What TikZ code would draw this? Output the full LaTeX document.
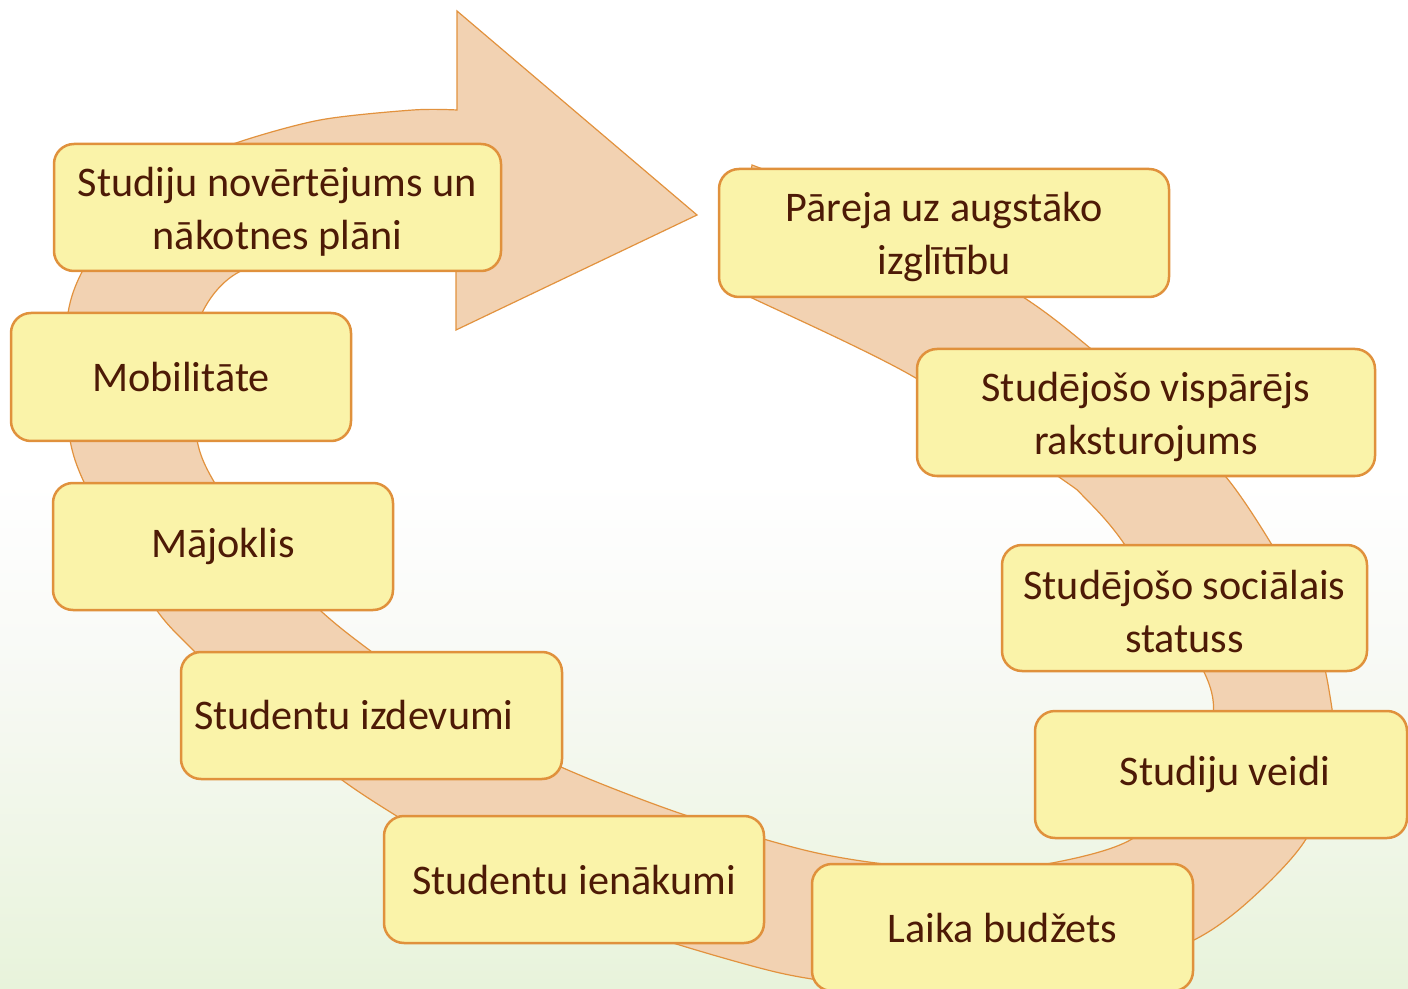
\documentclass[tikz,border=0pt]{standalone}
\usepackage{fontspec}
\setmainfont{Carlito}
\definecolor{bandfill}{RGB}{242,210,178}
\definecolor{bandline}{RGB}{226,146,62}
\definecolor{boxfill}{RGB}{250,243,169}
\definecolor{boxline}{RGB}{224,145,60}
\definecolor{txt}{RGB}{77,26,6}
\definecolor{bggreen}{RGB}{232,243,219}
\definecolor{bgmid}{RGB}{249,250,247}
\begin{document}
\begin{tikzpicture}[x=0.5pt,y=-0.5pt,
  box/.style={draw=boxline, fill=boxfill, line width=1.25pt, rounded corners=10pt,
    inner sep=0pt},
  lbl/.style={text=txt, align=center, inner sep=0pt, font=\fontsize{21.1}{26.5}\selectfont},
  lbltwo/.style={lbl, yshift=-2pt},
  band/.style={fill=bandfill, draw=bandline, line width=0.6pt, line join=miter}]
\useasboundingbox (0,0) rectangle (1408,989);
\clip (0,0) rectangle (1408,989);
% background
\fill[white] (0,0) rectangle (1408,480);
\shade[top color=white, bottom color=bgmid] (0,479) rectangle (1408,640);
\shade[top color=bgmid, bottom color=bggreen] (0,639) rectangle (1408,989);
% circular arrow band
\draw[band] plot[smooth] coordinates {(752,165) (900,225) (1023,297) (1090,348) (1160,410)
   (1226,477) (1272,545) (1310,615) (1329,690) (1334,760) (1306,839) (1250,900) (1194,940)
   (1100,975) (970,992) (860,985) (780,973) (673,943) (560,905) (470,860) (395,815) (342,780)
   (265,720) (195,652) (158,612) (118,545) (83,480) (70,440) (65,380) (68,313) (83,270)
   (125,205) (180,168) (236,143) (320,120) (413,110) (457,110)}
  -- (457,11) -- (697,215) -- (456,330) -- (456,240)
  -- plot[smooth] coordinates {(456,240) (350,246) (243,270) (202,313) (193,375) (197,440)
   (213,480) (260,550) (322,612) (372,652) (460,715) (561,767) (679,813) (800,849) (876,863)
   (965,871) (1052,863) (1132,839) (1190,780) (1212,725) (1204,672) (1125,545) (1084,497)
   (1059,477) (914,377) (750,297) (735,290)}
  -- cycle;
% boxes
\node[box, minimum width=223.5pt, minimum height=63.5pt] (b1) at (277.5,207.5) {};
\node[box, minimum width=170pt, minimum height=64pt] (b2) at (181,377) {};
\node[box, minimum width=170pt, minimum height=63.5pt] (b3) at (223,546.5) {};
\node[box, minimum width=190.5pt, minimum height=63.5pt] (b4) at (371.5,715.5) {};
\node[box, minimum width=190pt, minimum height=63.5pt] (b5) at (574,879.5) {};
\node[box, minimum width=190.5pt, minimum height=63.5pt] (b6) at (1002.5,927.5) {};
\node[box, minimum width=186pt, minimum height=63.5pt] (b7) at (1221,774.5) {};
\node[box, minimum width=182.5pt, minimum height=63pt] (b8) at (1184.5,608) {};
\node[box, minimum width=229pt, minimum height=63.5pt] (b9) at (1146,412.5) {};
\node[box, minimum width=225pt, minimum height=64pt] (b10) at (944,233) {};
% texts
\node[lbltwo] (t1) at (b1.center) {Studiju novērtējums un\\nākotnes plāni};
\node[lbl] (t2) at (b2.center) {Mobilitāte};
\node[lbl] (t3) at (b3.center) {Mājoklis};
\node[lbl, anchor=west] (t4) at ([xshift=7pt]b4.west) {Studentu izdevumi};
\node[lbl] (t5) at (b5.center) {Studentu ienākumi};
\node[lbl] (t6) at (b6.center) {Laika budžets};
\node[lbl, xshift=2pt] (t7) at (b7.center) {Studiju veidi};
\node[lbltwo] (t8) at (b8.center) {Studējošo sociālais\\statuss};
\node[lbltwo] (t9) at (b9.center) {Studējošo vispārējs\\raksturojums};
\node[lbltwo] (t10) at (b10.center) {Pāreja uz augstāko\\izglītību};
\end{tikzpicture}
\end{document}
